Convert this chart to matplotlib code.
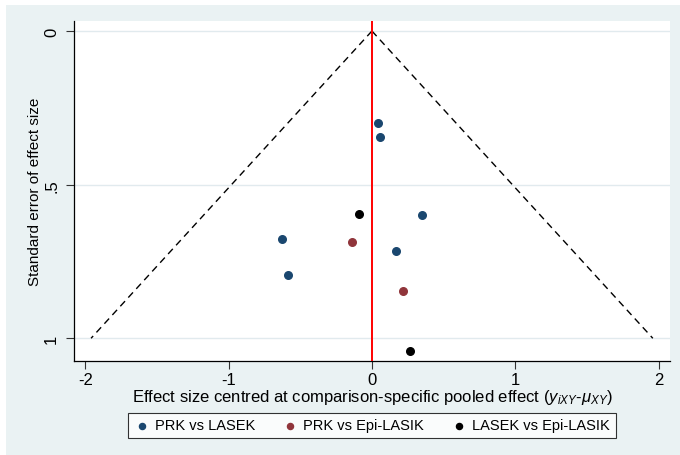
import numpy as np
import matplotlib.pyplot as plt
from matplotlib.patches import Rectangle

plt.rcParams['font.family'] = ['Liberation Sans', 'DejaVu Sans']
plt.rcParams['mathtext.fontset'] = 'custom'
plt.rcParams['mathtext.rm'] = 'Liberation Sans'
plt.rcParams['mathtext.it'] = 'Liberation Sans:italic'

# centred effect sizes (x) and standard errors (y) per comparison
prk_lasek_x = [0.042, 0.056, -0.631, -0.585, 0.350, 0.168]
prk_lasek_se = [0.300, 0.344, 0.677, 0.793, 0.598, 0.715]
prk_epi_x = [-0.142, 0.215]
prk_epi_se = [0.687, 0.847]
lasek_epi_x = [-0.089, 0.264]
lasek_epi_se = [0.596, 1.041]

# pseudo 95% confidence funnel
funnel_se = [0, 1]
z = 1.96

bg = '#eaf2f3'
fig = plt.figure(figsize=(6.8, 4.56), dpi=100, facecolor='white')
fig.patches.append(Rectangle((6 / 680, 0), 1, 1 - 6 / 456, transform=fig.transFigure,
                             facecolor=bg, edgecolor='none', zorder=-10))

ax = fig.add_axes([74.3 / 680, 1 - 361.7 / 456, (670 - 74.3) / 680, (361.7 - 22.3) / 456])
ax.set_facecolor('white')

for s in [0, 0.5, 1]:
    ax.axhline(s, color='#e1eaee', lw=1.0, zorder=0)

ax.plot([-z * f for f in funnel_se], funnel_se, color='black', ls=(0, (5, 3.5)), lw=1.0, zorder=2)
ax.plot([z * f for f in funnel_se], funnel_se, color='black', ls=(0, (5, 3.5)), lw=1.0, zorder=2)
ax.axvline(0, color='red', lw=1.4, zorder=3)

ax.scatter(prk_lasek_x, prk_lasek_se, s=30, color='#1a476f', label='PRK vs LASEK', zorder=4)
ax.scatter(prk_epi_x, prk_epi_se, s=30, color='#90353b', label='PRK vs Epi-LASIK', zorder=4)
ax.scatter(lasek_epi_x, lasek_epi_se, s=30, color='black', label='LASEK vs Epi-LASIK', zorder=4)

ax.set_xlim(-2.077, 2.080)
ax.set_ylim(1.073, -0.0316)
ax.set_xticks([-2, -1, 0, 1, 2])
ax.set_xticklabels(['-2', '-1', '0', '1', '2'])
ax.set_yticks([0, 0.5, 1])
ax.set_yticklabels(['0', '.5', '1'], rotation=90, va='center')
ax.tick_params(labelsize=12, length=6, width=0.8, color='#333333')
ax.tick_params(axis='y', pad=5)
ax.tick_params(axis='x', pad=2)

for side in ['top', 'right']:
    ax.spines[side].set_visible(False)
for side in ['left', 'bottom']:
    ax.spines[side].set_linewidth(0.9)

ax.set_xlabel(r'Effect size centred at comparison-specific pooled effect ($y_{iXY}$-$\mu_{XY}$)',
              fontsize=12, labelpad=0)
ax.set_ylabel('Standard error of effect size', fontsize=11)
ax.yaxis.set_label_coords(-0.055, 0.5)

leg = fig.legend(loc='center', bbox_to_anchor=(372 / 680, 1 - 426.5 / 456), ncol=3,
                 frameon=True, fancybox=False, fontsize=10.5, handletextpad=0.4,
                 columnspacing=1.9, markerscale=0.8, borderpad=0.4, handlelength=1.0)
leg.get_frame().set_edgecolor('black')
leg.get_frame().set_linewidth(0.8)

fig.savefig('out.png', dpi=100, facecolor=fig.get_facecolor())
